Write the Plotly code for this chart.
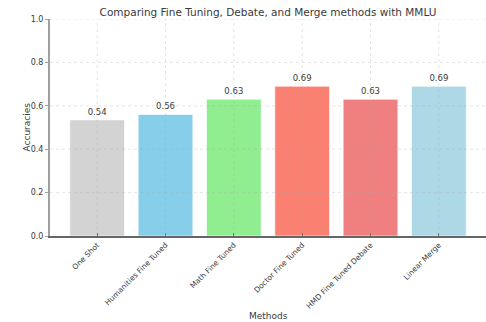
import plotly.graph_objects as go

# Accuracy per method on MMLU
methods = ["One Shot", "Humanities Fine Tuned", "Math Fine Tuned",
           "Doctor Fine Tuned", "HMD Fine Tuned Debate", "Linear Merge"]
accuracies = [0.535, 0.56, 0.63, 0.69, 0.63, 0.69]
bar_colors = ["#D3D3D3", "#87CEEB", "#90EE90", "#FA8072", "#F08080", "#ADD8E6"]
y_ticks = [0.0, 0.2, 0.4, 0.6, 0.8, 1.0]

font_family = "DejaVu Sans, sans-serif"
text_color = "#3a3a3a"
grid_color = "rgba(170,170,170,0.3)"

W, H = 486, 322
L, R, T, B = 50, 0, 19, 86
plot_w, plot_h = W - L - R, H - T - B

positions = list(range(len(methods)))

fig = go.Figure(
    go.Bar(
        x=positions,
        y=accuracies,
        width=0.8,
        marker=dict(color=bar_colors, line=dict(color="rgba(255,255,255,0.6)", width=1)),
        texttemplate="%{y:.2f}",
        textposition="outside",
        textfont=dict(size=8.5, color=text_color, family=font_family),
        cliponaxis=False,
    )
)

fig.update_layout(
    width=W,
    height=H,
    margin=dict(l=L, r=R, t=T, b=B),
    paper_bgcolor="white",
    plot_bgcolor="white",
    font=dict(family=font_family, size=9, color=text_color),
    title=dict(
        text="Comparing Fine Tuning, Debate, and Merge methods with MMLU",
        xref="paper",
        x=0.5,
        xanchor="center",
        y=0.963,
        yanchor="middle",
        font=dict(size=10.5, color=text_color, family=font_family),
    ),
    showlegend=False,
)

# dotted grid drawn over the bars
for p in positions:
    fig.add_shape(type="line", xref="x", yref="paper", x0=p, x1=p, y0=0, y1=1,
                  line=dict(color=grid_color, width=1, dash="dot"), layer="above")
for v in y_ticks[1:]:
    fig.add_shape(type="line", xref="paper", yref="y", x0=0, x1=1, y0=v, y1=v,
                  line=dict(color=grid_color, width=1, dash="dot"), layer="above")

# axis titles placed as annotations
fig.add_annotation(
    text="Accuracies", xref="paper", yref="paper",
    x=(26 - L) / plot_w, y=0.5, xanchor="center", yanchor="middle",
    textangle=-90, showarrow=False, font=dict(size=9, color=text_color),
)
fig.add_annotation(
    text="Methods", xref="paper", yref="paper",
    x=0.5, y=-(316 - (H - B)) / plot_h, xanchor="center", yanchor="middle",
    showarrow=False, font=dict(size=9, color=text_color),
)

fig.update_xaxes(
    range=[-0.69, 5.69],
    tickmode="array",
    tickvals=positions,
    ticktext=methods,
    tickangle=-45,
    tickfont=dict(size=7.5, color=text_color),
    showgrid=False,
    showline=True,
    linecolor="#666666",
    linewidth=1.5,
    ticks="inside",
    ticklen=3,
    tickcolor="#666666",
    zeroline=False,
    automargin=False,
)

fig.update_yaxes(
    range=[0, 1.0],
    tickvals=y_ticks,
    ticktext=[f"{v:.1f}" for v in y_ticks],
    tickfont=dict(size=8, color=text_color),
    showgrid=False,
    showline=True,
    linecolor="#a0a0a0",
    linewidth=2,
    ticks="outside",
    ticklen=3,
    tickcolor="#a0a0a0",
    zeroline=False,
    automargin=False,
)

fig.write_html("out.html")
